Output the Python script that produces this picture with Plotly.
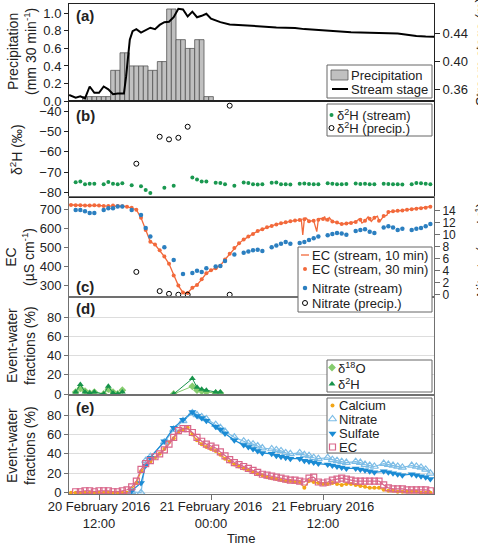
import pandas as pd
import plotly.graph_objects as go

T0 = pd.Timestamp("2016-02-20 00:00")


def to_time(hours):
    return [T0 + pd.Timedelta(hours=h) for h in hours]


# ---------------- (a) precipitation and stream stage ----------------
precip_h = [10.5, 11.0, 11.5, 12.0, 12.5, 13.0, 13.5, 14.0, 14.5, 15.0,
            15.5, 16.0, 16.5, 17.0, 17.5, 18.0, 18.5, 19.0, 19.5, 20.0,
            20.5, 21.0, 21.5, 22.0, 22.5, 23.0, 23.5, 24.0]
precip_mm = [0.05, 0.05, 0.05, 0.05, 0.05, 0.05, 0.35, 0.35, 0.55, 0.55,
             0.40, 0.40, 0.40, 0.40, 0.35, 0.35, 0.45, 0.45, 1.05, 1.05,
             0.70, 0.70, 0.60, 0.60, 0.70, 0.70, 0.05, 0.05]

stage_h = [8.8, 9.0, 9.5, 10.0, 10.5, 11.0, 11.5, 12.0, 12.5, 13.0,
           13.5, 14.0, 14.67, 14.9, 15.3, 15.6, 16.0, 16.5, 17.0, 17.5,
           18.0, 18.5, 19.0, 19.5, 20.0, 20.5, 21.0, 21.5, 22.0, 22.5,
           23.0, 23.5, 24.0, 25, 26, 27, 28, 29, 30, 31,
           32, 33, 34, 35, 36, 37, 38, 39, 40, 41,
           42, 43, 44, 45, 46, 47, 47.9]
stage_m = [0.352, 0.351, 0.348, 0.350, 0.347, 0.364, 0.355, 0.355, 0.364, 0.360,
           0.353, 0.354, 0.354, 0.378, 0.431, 0.443, 0.446, 0.441, 0.444, 0.448,
           0.446, 0.452, 0.456, 0.4565, 0.463, 0.475, 0.474, 0.464, 0.471, 0.463,
           0.465, 0.468, 0.461, 0.456, 0.4527, 0.4517, 0.451, 0.4495, 0.449, 0.4485,
           0.448, 0.4477, 0.446, 0.445, 0.444, 0.4425, 0.442, 0.4415, 0.441, 0.4405,
           0.440, 0.4398, 0.4396, 0.438, 0.4362, 0.4355, 0.4352]

# ---------------- stream samples (hours after 20 Feb 00:00) ----------------
sample_h = [9.5, 10.0, 10.5, 11.0, 11.5, 12.5, 13.0, 13.5, 14.0, 14.5,
            15.5, 16.5, 17.0, 17.5, 19.0, 20.0, 21.0, 22.0, 22.5, 23.0,
            23.5, 24.5, 25.0, 25.5, 26.5,
            27.5, 28.0, 28.5, 29.0, 29.5,
            30.5, 31.0, 31.5, 32.0, 32.5,
            33.5, 34.0, 34.5, 35.0, 35.5,
            36.5, 37.0, 37.5, 38.0, 38.5,
            39.5, 40.0, 40.5, 41.0, 41.5,
            42.5, 43.0, 43.5, 44.0, 44.5,
            45.5, 46.0, 46.5, 47.0, 47.5]

# (b) delta 2H
d2h_stream = [-74.9, -74.5, -75.9, -75.6, -75.6, -75.8, -74.8, -75.6, -75.9, -75.4,
              -76.4, -76.8, -78.7, -80.2, -77.6, -76.6, None, -72.5, -73.5, -74.5,
              -74.5, -75.1, -75.3, -75.9, -76.6,
              -75.0, -75.2, -75.9, -76.0, -75.9,
              -75.1, -75.0, -75.8, -75.9, -76.0,
              -75.6, -75.5, -75.7, -75.9, -75.8,
              -75.4, -75.6, -75.8, -75.9, -75.7,
              -75.5, -75.7, -75.6, -75.9, -75.8,
              -75.6, -75.7, -75.8, -75.9, -76.0,
              -75.8, -75.2, -75.4, -75.6, -75.9]
precip_sample_h = [16.0, 18.5, 19.5, 20.5, 21.5, 26.0]
d2h_precip = [-65.8, -52.6, -53.9, -53.1, -47.7, -37.4]

# (c) EC and nitrate
ec30_h = [9.0 + 0.5 * i for i in range(78)]
ec30 = [723, 722, 722, 720, 720, 721, 720, 718, 718, 720,
        718, 716, 714, 708, 698, 655, 590, 528, 514, 484,
        450, 412, 350, 297, 260, 258, 285, 300, 330, 362,
        378, 388, 402, 435, 465, 495, 520, 540, 556, 570,
        585, 595, 605, 612, 620, 626, 632, 637, 641, 643,
        648, 637, 640, 645, 649, 645, 636, 630, 622, 625,
        628, 633, 645, 640, 650, 655, 640, 665, 686, 690,
        692, 694, 697, 700, 703, 706, 708, 714]
ec10_extra_h = [8.75, 33.67, 33.83, 34.17, 35.33, 35.67, 36.17, 36.33, 36.67,
                39.83, 40.17, 40.83, 41.17, 41.83, 42.17, 42.83]
ec10_extra = [724, 646, 564, 655, 582, 652, 662, 640, 656,
              648, 628, 660, 636, 664, 641, 668]
no3_stream = [14.1, 14.1, 13.9, 13.6, 13.6, 14.1, 14.4, 14.4, 14.7, 14.7,
              14.1, 13.3, 11.1, 9.7, 7.9, 5.8, 3.45, 3.6, 4.0, 3.8,
              4.4, 4.7, 4.8, 5.6, 6.7,
              7.0, 7.2, 7.4, 7.5, 7.3,
              7.9, 8.2, 8.5, 8.8, 8.5,
              8.6, 8.8, 9.1, 9.4, 9.7,
              9.9, 10.1, 10.3, 10.2, 10.0,
              10.6, 10.8, 10.9, 10.5, 10.3,
              11.2, 11.4, 11.2, 10.8, 11.0,
              10.8, 11.0, 11.1, 11.4, 11.8]
no3_precip = [3.8, 0.6, 0.15, 0.0, 0.0, 0.0]

# (d) isotope event-water fractions
frac_iso_h = [9.5, 10.0, 10.5, 11.0, 11.5, 12.5, 13.0, 13.5, 14.0, 14.5, 15.5,
              20.0, 22.0, 22.5, 23.0, 23.5, 24.5, 25.0]
frac_d18o = [2, 6, 3, 1, 2, 0, 5, 2, 0, 4, None, 0, 8, 4, 3, 2, 1, 1]
frac_d2h = [2, 10, 2, 1, 2, 0, 8, 1, 0, 2, None, 0, 16, 7, 5, 4, 2, 2]

# (e) solute / EC event-water fractions
frac_ca = [0, 0, 0, 0, 0, 0, 0, 0, 0, 0,
           0, 0, 0, 4, 10, 22, 28, 32, 36, 40,
           45, 52, 56, 63, 65, 67, 60, 54, 50, 47,
           45, 43, 39, 35, 32, 29, 27, 25, 23, 21,
           19, 18, 16, 15, 14, 13, 12, 12, 11, 11,
           5, 12, 11, 10, 9, 9, 10, 9, 8, 9,
           9, 8, 7, 6, 5, 5, 5, 3, 2, 2,
           1, 1, 1, 1, 1, 0, 0, 0]
frac_ec = [None, 1, 1, 2, 2, 1, 2, 2, 2, 1,
           1, 2, 3, 6, 12, 24, 30, 33, 37, 40,
           44, 50, 57, 64, 66, 66, 62, 57, 53, 50,
           48, 46, 42, 38, 34, 31, 29, 27, 25, 23,
           21, 19, 18, 17, 16, 15, 14, 13, 13, 12,
           11, 15, 16, 11, 10, 11, 13, 14, 15, 14,
           13, 12, 12, 12, 12, 12, 12, 8, 5, 4,
           4, 4, 3, 3, 3, 3, 3, 2]
frac_no3 = [None] * 10 + [1, 0, 33, 37, 52, 65, 74, 82, 80, 78, 76, 70, 67, 63, 57,
                          53, 51, 50, 48, 46,
                          45, 44, 43, 41, 40,
                          41, 39, 38, 36, 35,
                          36, 34, 33, 32, 31,
                          32, 31, 29, 28, 27,
                          30, 29, 28, 27, 26,
                          28, 27, 26, 24, 20]
frac_so4 = [None] * 10 + [2, 10, 28, 36, 53, 67, 75, 83, 79, 77, 74, 68, 65, 61, 54,
                          49, 47, 45, 43, 41,
                          40, 38, 37, 36, 35,
                          35, 33, 32, 31, 30,
                          29, 28, 27, 26, 25,
                          25, 24, 23, 22, 21,
                          22, 21, 20, 19, 18,
                          19, 18, 17, 16, 14]

x_ticks_h = [12.0, 24.0, 36.0]
x_tick_text = ["20 February 2016<br>12:00", "21 February 2016<br>00:00",
               "21 February 2016<br>12:00"]

# ---------------- styling ----------------
FONT = "Liberation Sans, Arial, sans-serif"
TXT = "#222222"
FRAME_DARK = "#222222"
FRAME = "#707070"
GRID = "#dddddd"
C_GREEN = "#1a9850"
C_ORANGE = "#f2693b"
C_BLUE = "#2b7fc0"
C_LGREEN = "#86cc6e"
C_DGREEN = "#17934a"
C_CA = "#f2a516"
C_NO3 = "#7dbde6"
C_SO4 = "#1b8bd4"
C_EC = "#d9668a"

L, R, TOP, BOT = 69, 434, 4, 494
W, H = 478, 544


def px(xp):
    return (xp - L) / (R - L)


def py(yp):
    return (BOT - yp) / (BOT - TOP)


fig = go.Figure()

# (a)
fig.add_trace(go.Bar(x=to_time(precip_h), y=precip_mm, width=30 * 60 * 1000,
                     marker=dict(color="#c0c0c0", line=dict(color="#555555", width=0.8)),
                     xaxis="x", yaxis="y"))
fig.add_trace(go.Scatter(x=to_time(stage_h), y=stage_m, mode="lines",
                         line=dict(color="black", width=2), xaxis="x", yaxis="y6"))

# (b)
fig.add_trace(go.Scatter(x=to_time(sample_h), y=d2h_stream, mode="markers",
                         marker=dict(color=C_GREEN, size=4), xaxis="x2", yaxis="y2"))
fig.add_trace(go.Scatter(x=to_time(precip_sample_h), y=d2h_precip, mode="markers",
                         marker=dict(symbol="circle-open", color="black", size=5,
                                     line=dict(width=1)), xaxis="x2", yaxis="y2"))

# (c)
line_pts = sorted(zip(ec30_h + ec10_extra_h, ec30 + ec10_extra))
fig.add_trace(go.Scatter(x=to_time([p[0] for p in line_pts]), y=[p[1] for p in line_pts],
                         mode="lines", line=dict(color=C_ORANGE, width=1.3),
                         xaxis="x3", yaxis="y3"))
fig.add_trace(go.Scatter(x=to_time(ec30_h), y=ec30, mode="markers",
                         marker=dict(color=C_ORANGE, size=4), xaxis="x3", yaxis="y3"))
fig.add_trace(go.Scatter(x=to_time(sample_h), y=no3_stream, mode="markers",
                         marker=dict(color=C_BLUE, size=4.5), xaxis="x3", yaxis="y7"))
fig.add_trace(go.Scatter(x=to_time(precip_sample_h), y=no3_precip, mode="markers",
                         marker=dict(symbol="circle-open", color="black", size=5,
                                     line=dict(width=1)), xaxis="x3", yaxis="y7"))

# (d)
fig.add_trace(go.Scatter(x=to_time(frac_iso_h), y=frac_d18o, mode="lines+markers",
                         line=dict(color=C_LGREEN, width=1),
                         marker=dict(symbol="diamond", color=C_LGREEN, size=6),
                         xaxis="x4", yaxis="y4"))
fig.add_trace(go.Scatter(x=to_time(frac_iso_h), y=frac_d2h, mode="lines+markers",
                         line=dict(color=C_DGREEN, width=1),
                         marker=dict(symbol="triangle-up", color=C_DGREEN, size=6),
                         xaxis="x4", yaxis="y4"))

# (e)
fig.add_trace(go.Scatter(x=to_time(ec30_h), y=frac_ca, mode="lines+markers",
                         line=dict(color=C_CA, width=1.2),
                         marker=dict(color=C_CA, size=4), xaxis="x5", yaxis="y5"))
fig.add_trace(go.Scatter(x=to_time(sample_h), y=frac_no3, mode="lines+markers",
                         line=dict(color=C_NO3, width=1.2),
                         marker=dict(symbol="triangle-up-open", color=C_NO3, size=7,
                                     line=dict(width=1.2)), xaxis="x5", yaxis="y5"))
fig.add_trace(go.Scatter(x=to_time(sample_h), y=frac_so4, mode="lines+markers",
                         line=dict(color=C_SO4, width=1.2),
                         marker=dict(symbol="triangle-down", color=C_SO4, size=7),
                         xaxis="x5", yaxis="y5"))
fig.add_trace(go.Scatter(x=to_time(ec30_h), y=frac_ec, mode="lines+markers",
                         line=dict(color=C_EC, width=1.2),
                         marker=dict(symbol="square-open", color=C_EC, size=6,
                                     line=dict(width=1.2)), xaxis="x5", yaxis="y5"))

# ---------------- custom legends (drawn on an overlay pixel-space subplot) ----------------
shapes = []
annotations = []
legend_boxes = [(327, 432, 65, 98), (327, 432, 104, 136), (298, 432, 247, 312),
                (327, 432, 360, 392), (327, 432, 398, 453)]
for x0, x1, y0, y1 in legend_boxes:
    shapes.append(dict(type="rect", xref="x6", yref="y8", x0=x0, x1=x1, y0=y0, y1=y1,
                       fillcolor="white", line=dict(color="#666666", width=1),
                       layer="between"))
shapes.append(dict(type="rect", xref="x6", yref="y8", x0=331, x1=348, y0=70, y1=80,
                   fillcolor="#c0c0c0", line=dict(color="#555555", width=0.8),
                   layer="between"))


def leg_marker(x, y, **marker):
    fig.add_trace(go.Scatter(x=[x], y=[y], mode="markers", marker=marker,
                             xaxis="x6", yaxis="y8", hoverinfo="skip"))


def leg_line(x0, x1, y, color, width):
    fig.add_trace(go.Scatter(x=[x0, x1], y=[y, y], mode="lines",
                             line=dict(color=color, width=width),
                             xaxis="x6", yaxis="y8", hoverinfo="skip"))


def leg_text(x, y, text):
    annotations.append(dict(xref="x6", yref="y8", x=x, y=y, text=text, showarrow=False,
                            xanchor="left", yanchor="middle",
                            font=dict(family=FONT, size=13, color=TXT)))


# (a)
leg_line(332, 348, 89, "black", 2)
leg_text(349, 75, "Precipitation")
leg_text(349, 89, "Stream stage")
# (b)
leg_marker(331.5, 115, color=C_GREEN, size=4)
leg_marker(331.5, 128, symbol="circle-open", color="black", size=5, line=dict(width=1))
leg_text(335, 115, "δ<sup>2</sup>H (stream)")
leg_text(335, 128, "δ<sup>2</sup>H (precip.)")
# (c)
leg_line(301, 309, 255, C_ORANGE, 1.3)
leg_marker(305, 269, color=C_ORANGE, size=4)
leg_marker(305, 288, color=C_BLUE, size=4.5)
leg_marker(305, 303, symbol="circle-open", color="black", size=5, line=dict(width=1))
leg_text(310, 255, "EC (stream, 10 min)")
leg_text(310, 269, "EC (stream, 30 min)")
leg_text(310, 288, "Nitrate (stream)")
leg_text(310, 303, "Nitrate (precip.)")
# (d)
leg_marker(332, 367.5, symbol="diamond", color=C_LGREEN, size=6)
leg_marker(332, 384, symbol="triangle-up", color=C_DGREEN, size=6)
leg_text(336, 367.5, "δ<sup>18</sup>O")
leg_text(336, 384, "δ<sup>2</sup>H")
# (e)
leg_marker(332.5, 405.5, color=C_CA, size=4)
leg_marker(332.5, 419, symbol="triangle-up-open", color=C_NO3, size=7, line=dict(width=1.2))
leg_marker(332.5, 433.5, symbol="triangle-down", color=C_SO4, size=7)
leg_marker(332.5, 447, symbol="square-open", color=C_EC, size=6, line=dict(width=1.2))
leg_text(337, 405.5, "Calcium")
leg_text(337, 419, "Nitrate")
leg_text(337, 433.5, "Sulfate")
leg_text(337, 447, "EC")

# panel labels
for lab, yy in [("(a)", 15), ("(b)", 115), ("(c)", 286), ("(d)", 308), ("(e)", 407)]:
    annotations.append(dict(xref="x6", yref="y8", x=74, y=yy, text="<b>%s</b>" % lab,
                            showarrow=False, xanchor="left", yanchor="middle",
                            font=dict(family=FONT, size=15, color=TXT)))

# axis titles
for text, xx, yy in [("Precipitation<br>(mm 30 min<sup>-1</sup>)", 22, 52),
                     ("δ<sup>2</sup>H (‰)", 16, 150),
                     ("EC<br>(µS cm<sup>-1</sup>)", 20, 257),
                     ("Event-water<br>fractions (%)", 21, 346),
                     ("Event-water<br>fractions (%)", 21, 446)]:
    annotations.append(dict(xref="paper", yref="paper", x=px(xx), y=py(yy), text=text,
                            textangle=-90, showarrow=False, xanchor="center",
                            yanchor="middle",
                            font=dict(family=FONT, size=14, color=TXT)))
for text, yy in [("Stream stage (m)", 52), ("Nitrate (mg L<sup>-1</sup>)", 250)]:
    annotations.append(dict(xref="paper", yref="paper", x=px(481), y=py(yy), text=text,
                            textangle=-90, showarrow=False, xanchor="center",
                            yanchor="middle",
                            font=dict(family=FONT, size=14, color=TXT)))
annotations.append(dict(xref="paper", yref="paper", x=px(241), y=py(538), text="Time",
                        showarrow=False, xanchor="center", yanchor="middle",
                        font=dict(family=FONT, size=13, color=TXT)))

# ---------------- axes ----------------
x_range = [T0 + pd.Timedelta(hours=8.785), T0 + pd.Timedelta(hours=47.89)]
tickfont = dict(family=FONT, size=13, color=TXT)


def xax(anchor, color, last=False):
    d = dict(type="date", range=x_range, anchor=anchor, domain=[0, 1], showgrid=False,
             zeroline=False, showline=True, mirror=True, linecolor=color, linewidth=1)
    if last:
        d.update(tickvals=to_time(x_ticks_h), ticktext=x_tick_text, ticks="outside",
                 ticklen=5, tickcolor=color, tickfont=tickfont, ticklabelstandoff=-5)
    else:
        d.update(matches="x5", showticklabels=False, ticks="")
    return d


def yax(domain, rng, vals, color, mirror=True, grid=False, fmt=None, anchor=None):
    d = dict(domain=domain, range=rng, tickvals=vals, ticks="outside", ticklen=4,
             tickcolor=color, tickfont=tickfont, showline=True, linecolor=color,
             linewidth=1, mirror=mirror, zeroline=False, showgrid=grid,
             gridcolor=GRID, gridwidth=1, anchor=anchor)
    if fmt:
        d["tickformat"] = fmt
    return d


dom = {"a": [py(101), 1.0], "b": [py(197), py(101)], "c": [py(297), py(197)],
       "d": [py(395), py(297)], "e": [0.0, py(395)]}

fig.update_layout(
    width=W, height=H,
    margin=dict(l=L, r=W - R, t=TOP, b=H - BOT),
    paper_bgcolor="white", plot_bgcolor="rgba(0,0,0,0)",
    showlegend=False, hovermode=False,
    font=dict(family=FONT, size=13, color=TXT),
    xaxis=xax("y", FRAME_DARK),
    xaxis2=xax("y2", FRAME_DARK),
    xaxis3=xax("y3", FRAME),
    xaxis4=xax("y4", FRAME),
    xaxis5=xax("y5", FRAME, last=True),
    xaxis6=dict(domain=[0, 1], range=[L, R], anchor="y8", visible=False, fixedrange=True),
    yaxis=yax(dom["a"], [0, 1.107], [0, 0.2, 0.4, 0.6, 0.8, 1.0], FRAME_DARK,
              mirror=False, fmt=".1f", anchor="x"),
    yaxis6=dict(overlaying="y", side="right", anchor="x", range=[0.3433, 0.4819],
                tickvals=[0.36, 0.40, 0.44], tickformat=".2f",
                ticks="outside", ticklen=5, tickcolor=FRAME_DARK, tickfont=tickfont,
                showline=True, linecolor=FRAME_DARK, linewidth=1, showgrid=False,
                zeroline=False),
    yaxis2=yax(dom["b"], [-82.1, -35.1], [-80, -70, -60, -50, -40], FRAME_DARK, anchor="x2"),
    yaxis3=yax(dom["c"], [236.6, 765], [300, 400, 500, 600, 700], FRAME,
               mirror=False, anchor="x3"),
    yaxis7=dict(overlaying="y3", side="right", anchor="x3", range=[-0.38, 16.28],
                tickvals=[0, 2, 4, 6, 8, 10, 12, 14], ticks="outside", ticklen=5,
                tickcolor=FRAME, tickfont=dict(family=FONT, size=12, color=TXT),
                showline=True, linecolor=FRAME,
                linewidth=1, showgrid=False, zeroline=False),
    yaxis4=yax(dom["d"], [-1.04, 100.8], [0, 20, 40, 60, 80], FRAME, grid=True, anchor="x4"),
    yaxis5=yax(dom["e"], [-1.34, 100.6], [0, 20, 40, 60, 80], FRAME, grid=True, anchor="x5"),
    yaxis8=dict(domain=[0, 1], range=[BOT, TOP], anchor="x6", visible=False, fixedrange=True),
    shapes=shapes,
    annotations=annotations,
)

fig.write_html("out.html", config={"displayModeBar": False},
               post_script="document.body.style.margin='0';document.body.style.padding='0';")
